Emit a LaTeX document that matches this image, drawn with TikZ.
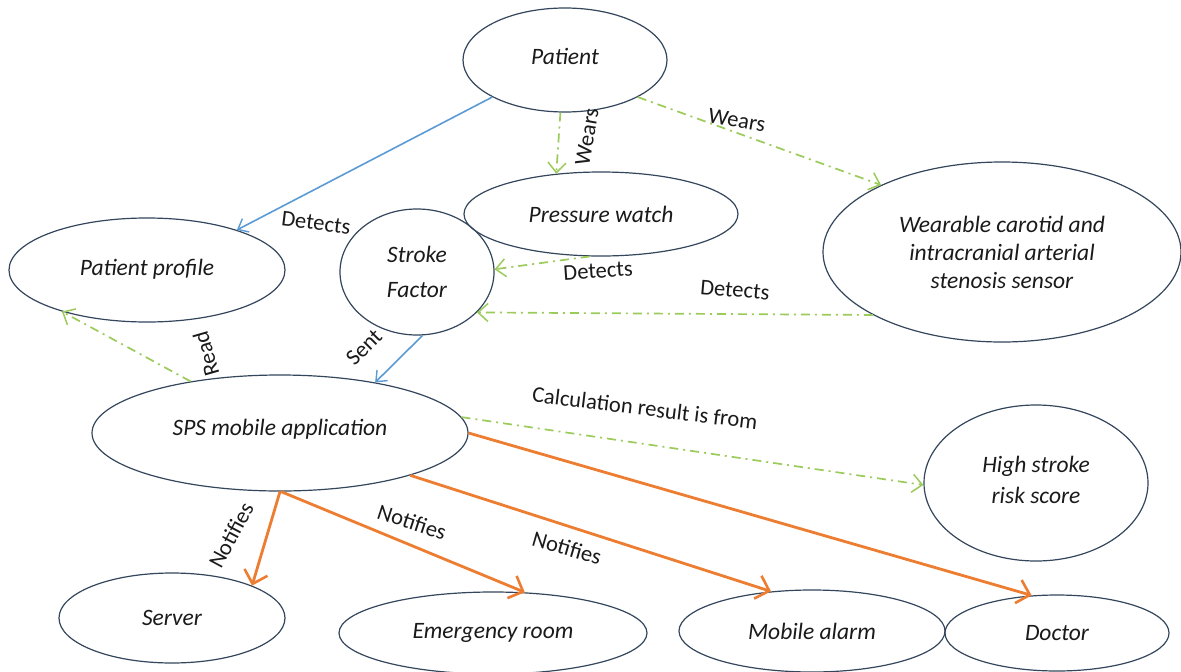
\documentclass[tikz,border=0pt]{standalone}
\usepackage{fontspec}
\setmainfont{Carlito}
\usetikzlibrary{shapes.geometric,arrows.meta}
\definecolor{ovalc}{HTML}{34465C}
\definecolor{txtc}{HTML}{1A1A1A}
\definecolor{arrblue}{HTML}{5B9BD5}
\definecolor{arrgreen}{HTML}{9BCB5A}
\definecolor{arrorange}{HTML}{ED7D31}
\newcommand\ndfont{\fontsize{23.5}{28}\selectfont\itshape}
\newcommand\lbfont{\fontsize{22.5}{27}\selectfont}
\tikzset{
  oval/.style={ellipse, draw=ovalc, line width=1.2pt, inner sep=0pt, font=\ndfont, text=txtc, align=center},
  lbl/.style={font=\lbfont, text=txtc, inner sep=0pt},
  bluearr/.style={draw=arrblue, line width=1.6pt, -{Straight Barb[length=9pt,width=15pt,line width=1.4pt]}},
  greenarr/.style={draw=arrgreen, line width=1.7pt, dash pattern=on 9pt off 5pt on 2pt off 5pt, -{Straight Barb[length=10pt,width=18pt,line width=1.5pt]}},
  orangearr/.style={draw=arrorange, line width=2.8pt, -{Straight Barb[length=12pt,width=24pt,line width=2.6pt]}},
}
\begin{document}
\begin{tikzpicture}[x=1pt,y=-1pt]
\useasboundingbox[fill=white] (0,0) rectangle (1181,672);
% nodes
\node[oval, minimum width=204pt, minimum height=104pt] (patient) at (565,60) {\raisebox{8pt}{Patient}};
\node[oval, minimum width=274pt, minimum height=84pt] (pw) at (601,214) {Pressure watch};
\node[oval, minimum width=358pt, minimum height=180pt] (wear) at (1002,252) {Wearable carotid and\\[0pt]intracranial arterial\\[0pt]stenosis sensor};
\node[oval, minimum width=276pt, minimum height=104pt] (prof) at (147,270) {\raisebox{5pt}{Patient profile}};
\node[oval, minimum width=154pt, minimum height=126pt] (sf) at (417,272) {Stroke\\[7pt]Factor};
\node[oval, minimum width=376pt, minimum height=116pt] (sps) at (280,433) {\raisebox{11pt}{SPS mobile application}};
\node[oval, minimum width=224pt, minimum height=156pt] (hs) at (1036,483) {\raisebox{6pt}{\shortstack{High stroke\\[7pt]risk score}}};
\node[oval, minimum width=226pt, minimum height=90pt] (server) at (172,618) {Server};
\node[oval, minimum width=308pt, minimum height=82pt] (er) at (493,633) {Emergency room};
\node[oval, minimum width=266pt, minimum height=82pt] (ma) at (812,631) {Mobile alarm};
\node[oval, minimum width=224pt, minimum height=76pt] (doc) at (1057,633) {Doctor};
% connectors
\draw[bluearr] (patient.207) -- (prof.24);
\draw[greenarr] (patient.265) -- (pw.138);
\draw[greenarr] (patient.333) -- (wear.151);
\draw[greenarr] (pw.255) -- (sf.2);
\draw[greenarr] (wear.206) -- (sf.326);
\draw[bluearr] (sf.275) -- (sps.28);
\draw[greenarr] (sps.150) -- (prof.206);
\draw[greenarr] (sps.5) -- (hs.181);
\draw[orangearr] (sps.270) -- (server.22);
\draw[orangearr] (sps.271) -- (er.52);
\draw[orangearr] (sps.342) -- (ma.136);
\draw[orangearr] (sps.0) -- (doc.124);
% labels
\node[lbl, rotate=-7] (l1) at (316,223) {Detects};
\node[lbl, rotate=80] (l2) at (587,137) {Wears};
\node[lbl, rotate=-10] (l3) at (737,120) {Wears};
\node[lbl, rotate=4] (l4) at (598,271) {Detects};
\node[lbl, rotate=-5] (l5) at (735,290) {Detects};
\node[lbl, rotate=45] (l6) at (364,347) {Sent};
\node[lbl, rotate=106] (l7) at (206,354) {Read};
\node[lbl, rotate=-7] (l8) at (645,408) {Calculation result is from};
\node[lbl, rotate=62] (l9) at (231,535) {Notifies};
\node[lbl, rotate=-18] (l10) at (412,522) {Notifies};
\node[lbl, rotate=-16] (l11) at (567,548) {Notifies};
\end{tikzpicture}
\end{document}
